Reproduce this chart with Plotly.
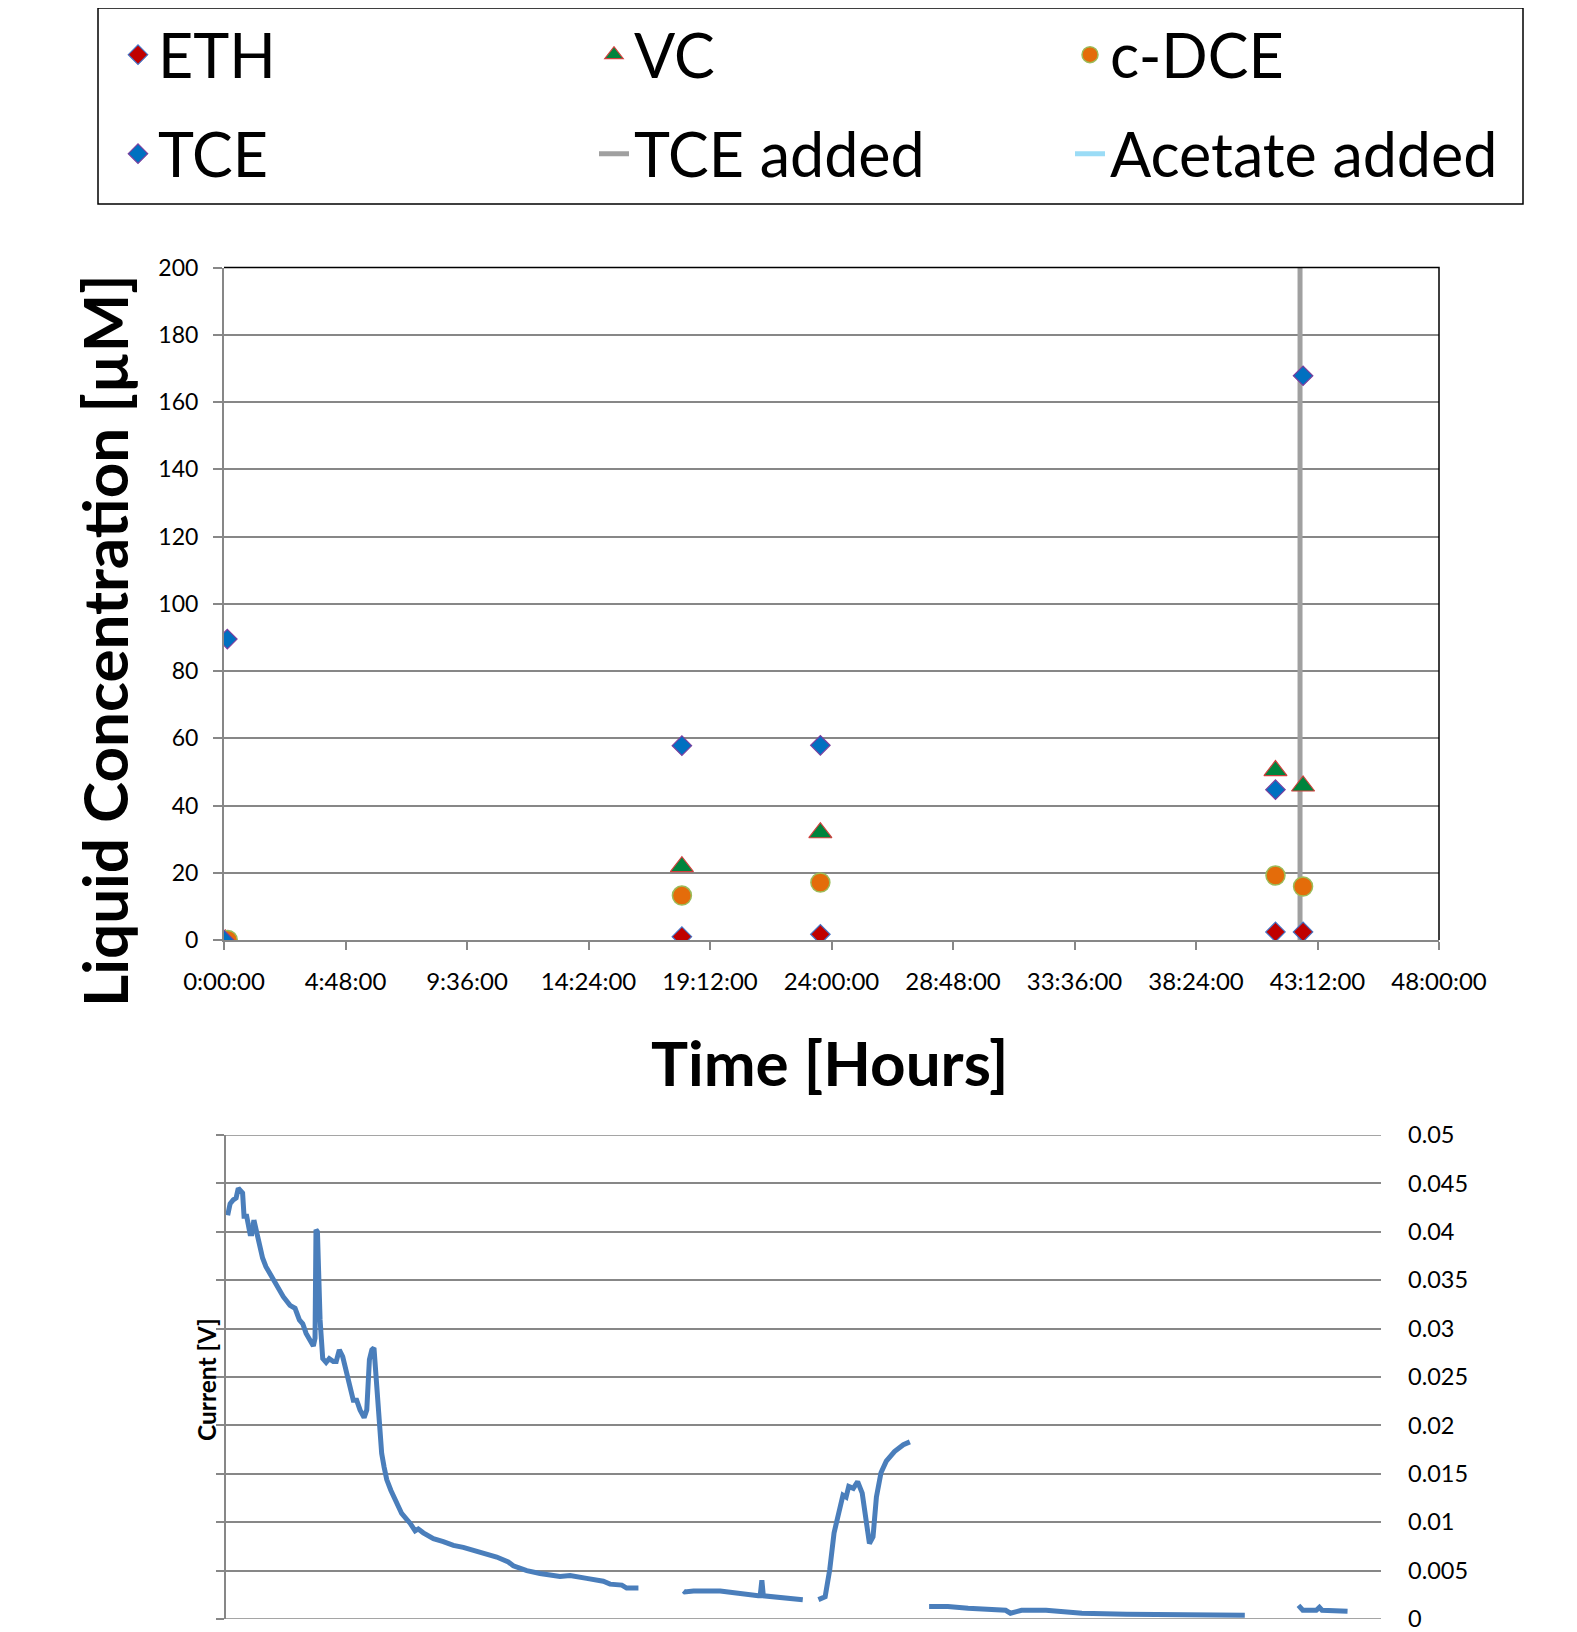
import plotly.graph_objects as go

# page body has an 8px margin: the figure starts at (8, 8) in the window
OFF = 8
W, H = 1577 - OFF, 1632 - OFF
FONT = "Lato"

# ---------------- Top chart data (time in hours, concentration in uM) ----------------
t_eth = [0.05, 18.09, 23.56, 41.54, 42.63]
eth = [0.0, 1.0, 1.7, 2.4, 2.4]
t_vc = [0.05, 18.09, 23.56, 41.54, 42.63]
vc = [0.0, 21.8, 31.9, 50.4, 45.8]
t_cdce = [0.15, 18.09, 23.56, 41.54, 42.63]
cdce = [0.0, 13.2, 17.1, 19.2, 15.9]
t_tce = [0.0, 0.13, 18.09, 23.56, 41.54, 42.63]
tce = [0.0, 89.5, 57.8, 57.9, 44.7, 167.8]
tce_added_t = [42.51, 42.51]
tce_added_y = [0, 200]

x_tickvals = [0, 4.8, 9.6, 14.4, 19.2, 24.0, 28.8, 33.6, 38.4, 43.2, 48.0]
x_ticktext = ["0:00:00", "4:48:00", "9:36:00", "14:24:00", "19:12:00", "24:00:00",
              "28:48:00", "33:36:00", "38:24:00", "43:12:00", "48:00:00"]
y_tickvals = [0, 20, 40, 60, 80, 100, 120, 140, 160, 180, 200]

# ---------------- Bottom chart data (time in hours, current in V) ----------------
current_t = [0.07, 0.17, 0.30, 0.42, 0.51, 0.61, 0.69, 0.75, 0.86, 1.00, 1.07, 1.16, 1.25, 1.39,
             1.52, 1.66, 1.90, 2.11, 2.38, 2.66, 2.87, 3.05, 3.19, 3.33, 3.49, 3.63, 3.70, 3.74,
             3.80, 3.91, 4.02, 4.16, 4.29, 4.46, 4.58, 4.71, 4.85, 5.02, 5.13, 5.20, 5.29, 5.43,
             5.57, 5.74, 5.85, 5.96, 6.06, 6.15, 6.26, 6.37, 6.47, 6.57, 6.68, 6.85, 7.09, 7.30,
             7.51, 7.65, 7.86, 7.99, 8.20, 8.62, 9.03, 9.45, 9.86, 10.28, 10.69, 11.25, 11.73,
             11.94, 12.50, 13.05, 13.88, 14.30, 14.99, 15.68, 15.96, 16.45, 16.65, 17.14,
             None,
             19.01, 19.06, 19.43, 20.54, 22.12, 22.20, 22.27, 22.33, 23.97,
             None,
             24.62, 24.90, 25.09, 25.27, 25.46, 25.64, 25.77, 25.88, 26.07, 26.25, 26.44, 26.62,
             26.74, 26.89, 27.03, 27.22, 27.44, 27.78, 28.15, 28.42,
             None,
             29.22, 30.00, 30.84, 32.14, 32.40, 32.60, 32.85, 33.06, 34.08, 35.57, 37.42, 39.28,
             40.76, 42.34,
             None,
             44.57, 44.75, 45.31, 45.44, 45.55, 46.61]
current_v = [0.0417, 0.0429, 0.0433, 0.0435, 0.0445, 0.0441, 0.0440, 0.0416, 0.0416, 0.0398,
             0.0398, 0.0412, 0.0402, 0.0392, 0.0373, 0.0364, 0.0354, 0.0345, 0.0333, 0.0324,
             0.0321, 0.0309, 0.0305, 0.0295, 0.0288, 0.0282, 0.0290, 0.0402, 0.0400, 0.0309,
             0.0269, 0.0265, 0.0269, 0.0266, 0.0266, 0.0278, 0.0271, 0.0254, 0.0242, 0.0240,
             0.0226, 0.0226, 0.0216, 0.0208, 0.0216, 0.0268, 0.0278, 0.0280, 0.0240, 0.0195,
             0.0171, 0.0157, 0.0144, 0.0133, 0.0121, 0.0109, 0.0103, 0.0099, 0.0091, 0.0093,
             0.0089, 0.0083, 0.0080, 0.0076, 0.0074, 0.0071, 0.0068, 0.0064, 0.0059, 0.0055,
             0.0050, 0.0047, 0.0044, 0.0045, 0.0042, 0.0039, 0.0036, 0.0035, 0.0032, 0.0032,
             None,
             0.0029, 0.0028, 0.0029, 0.0029, 0.0024, 0.0024, 0.0040, 0.0024, 0.0020,
             None,
             0.0020, 0.0023, 0.0051, 0.0089, 0.0109, 0.0128, 0.0126, 0.0137, 0.0135, 0.0142,
             0.0130, 0.0095, 0.0078, 0.0085, 0.0126, 0.0151, 0.0163, 0.0173, 0.0180, 0.0183,
             None,
             0.0013, 0.0013, 0.0011, 0.0010, 0.0009, 0.0006, 0.0007, 0.0009, 0.0009, 0.0006,
             0.0005, 0.0005, 0.0005, 0.0004,
             None,
             0.0014, 0.0009, 0.0009, 0.0012, 0.0009, 0.0008]
cur_tickvals = [0, 0.005, 0.01, 0.015, 0.02, 0.025, 0.03, 0.035, 0.04, 0.045, 0.05]
cur_ticktext = ["0", "0.005", "0.01", "0.015", "0.02", "0.025", "0.03", "0.035", "0.04",
                "0.045", "0.05"]


def px_x(p):
    """window pixel x -> paper fraction"""
    return (p - OFF) / W


def px_y(p):
    """window pixel y -> paper fraction"""
    return 1 - (p - OFF) / H


GRID = "#878787"
AXIS = "#878787"

fig = go.Figure()

# TCE added line (drawn first, below markers)
fig.add_trace(go.Scatter(x=tce_added_t, y=tce_added_y, mode="lines", name="TCE added",
                         line=dict(color="#A0A0A0", width=5), legend="legend2", legendrank=2,
                         xaxis="x", yaxis="y"))
fig.add_trace(go.Scatter(x=[None], y=[None], mode="lines", name="Acetate added",
                         line=dict(color="#9BDCF6", width=5), legend="legend2", legendrank=3,
                         xaxis="x", yaxis="y"))
fig.add_trace(go.Scatter(x=t_eth, y=eth, mode="markers", name="ETH",
                         marker=dict(symbol="diamond", size=15, color="#C00000",
                                     line=dict(color="#4472C4", width=1.2)),
                         legend="legend", legendrank=1, xaxis="x", yaxis="y"))
fig.add_trace(go.Scatter(x=t_vc, y=vc, mode="markers", name="VC",
                         marker=dict(symbol="triangle-up", size=20, color="#00843D",
                                     line=dict(color="#D0403D", width=1.2)),
                         legend="legend", legendrank=2, xaxis="x", yaxis="y"))
fig.add_trace(go.Scatter(x=t_cdce, y=cdce, mode="markers", name="c-DCE",
                         marker=dict(symbol="circle", size=19, color="#E46C0A",
                                     line=dict(color="#9BBB59", width=1.5)),
                         legend="legend", legendrank=3, xaxis="x", yaxis="y"))
fig.add_trace(go.Scatter(x=t_tce, y=tce, mode="markers", name="TCE",
                         marker=dict(symbol="diamond", size=15, color="#0070C0",
                                     line=dict(color="#7B3F9E", width=1.2)),
                         legend="legend2", legendrank=1, xaxis="x", yaxis="y"))

# Current trace
fig.add_trace(go.Scatter(x=current_t, y=current_v, mode="lines", name="Current",
                         line=dict(color="#4A7EBB", width=5), showlegend=False,
                         connectgaps=False, xaxis="x2", yaxis="y3"))
# empty trace so the left (line/ticks only) axis of the lower chart is drawn
fig.add_trace(go.Scatter(x=[None], y=[None], mode="lines", showlegend=False,
                         xaxis="x2", yaxis="y4"))

xtickfont = dict(family=FONT, size=24, color="#000000")
ytickfont = dict(family=FONT, size=23, color="#000000")
rtickfont = dict(family=FONT, size=23.5, color="#000000")

legend_common = dict(orientation="h", xanchor="left", yanchor="middle",
                     font=dict(family=FONT, size=61, color="#000000"),
                     entrywidth=431, entrywidthmode="pixels", bgcolor="rgba(0,0,0,0)",
                     borderwidth=0, traceorder="normal", itemclick=False,
                     itemdoubleclick=False)

fig.update_layout(
    width=W, height=H,
    margin=dict(l=0, r=0, t=0, b=0, autoexpand=False),
    paper_bgcolor="white", plot_bgcolor="white",
    font=dict(family=FONT, color="#000000"),
    legend=dict(x=px_x(118), y=px_y(55), **legend_common),
    legend2=dict(x=px_x(118), y=px_y(154), **legend_common),
    xaxis=dict(domain=[px_x(224), px_x(1439)], range=[0, 48], tickmode="array",
               tickvals=x_tickvals, ticktext=x_ticktext, tickfont=xtickfont,
               showgrid=False, zeroline=False, showline=True, linecolor=AXIS, linewidth=2,
               ticks="outside", ticklen=8, tickwidth=1.5, tickcolor=AXIS,
               ticklabelstandoff=11, ticklabeloverflow="allow", anchor="y"),
    yaxis=dict(domain=[px_y(940), px_y(267.5)], range=[0, 200], tickmode="array",
               tickvals=y_tickvals, tickfont=ytickfont, showgrid=True, gridcolor=GRID,
               gridwidth=1.5, zeroline=False, showline=True, linecolor=AXIS, linewidth=2,
               ticks="outside", ticklen=9, tickwidth=1.5, tickcolor=AXIS,
               ticklabelstandoff=10, ticklabeloverflow="allow", anchor="x"),
    xaxis2=dict(domain=[px_x(226), px_x(1381)], range=[0, 48], showgrid=False,
                zeroline=False, showline=False, showticklabels=False, ticks="",
                anchor="y3"),
    yaxis3=dict(domain=[px_y(1619), px_y(1135)], range=[0, 0.05], tickmode="array",
                tickvals=cur_tickvals, ticktext=cur_ticktext, tickfont=rtickfont, side="right",
                showgrid=True, gridcolor=GRID, gridwidth=1.5, zeroline=False, showline=False,
                ticks="", ticklabelstandoff=26, ticklabeloverflow="allow", anchor="x2"),
    yaxis4=dict(overlaying="y3", side="left", anchor="x2", range=[0, 0.05], tickmode="array",
                tickvals=cur_tickvals, showticklabels=False, showgrid=False, zeroline=False,
                showline=True, linecolor=AXIS, linewidth=2, ticks="outside", ticklen=8,
                tickwidth=1.5, tickcolor=AXIS),
    shapes=[
        # legend border
        dict(type="rect", xref="paper", yref="paper", x0=px_x(98), x1=px_x(1523),
             y0=px_y(204), y1=px_y(8), line=dict(color="#000000", width=1.5),
             fillcolor="rgba(0,0,0,0)"),
        # top/right border of upper plot area
        dict(type="path", xref="x domain", yref="y domain",
             path="M 0 1 L 1 1 L 1 0", line=dict(color="#000000", width=1.5)),
        # edge gridlines of lower chart (0 and 0.05)
        dict(type="line", xref="x2 domain", yref="y3", x0=0, x1=1, y0=0, y1=0,
             line=dict(color=GRID, width=1.5), layer="below"),
        dict(type="line", xref="x2 domain", yref="y3", x0=0, x1=1, y0=0.05, y1=0.05,
             line=dict(color=GRID, width=1.5), layer="below"),
    ],
    annotations=[
        dict(text="<b>Liquid Concentration [µM]</b>", xref="paper", yref="paper",
             x=px_x(104), y=px_y(641), textangle=-90, showarrow=False,
             xanchor="center", yanchor="middle", font=dict(family=FONT, size=62, color="#000")),
        dict(text="<b>Time [Hours]</b>", xref="paper", yref="paper",
             x=px_x(830), y=px_y(1062), showarrow=False, xanchor="center", yanchor="middle",
             font=dict(family=FONT, size=62, color="#000")),
        dict(text="<b>Current [V]</b>", xref="paper", yref="paper",
             x=px_x(206), y=px_y(1379), textangle=-90, showarrow=False,
             xanchor="center", yanchor="middle", font=dict(family=FONT, size=24.5, color="#000")),
    ],
)

fig.write_html("out.html")
